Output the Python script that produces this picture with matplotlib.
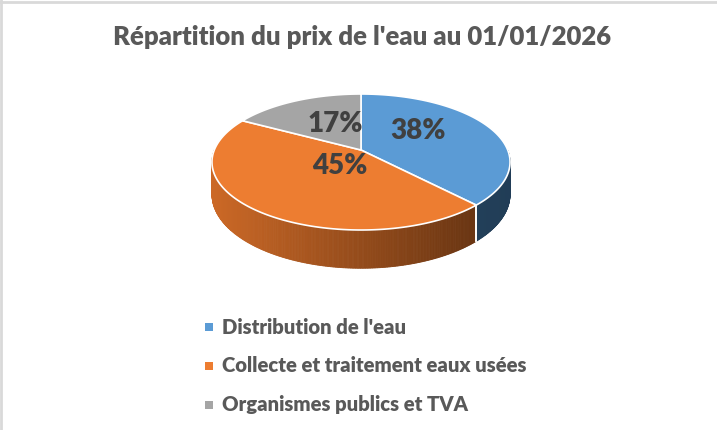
import numpy as np
import matplotlib.pyplot as plt
from matplotlib.patches import Polygon, Rectangle

title = "Répartition du prix de l'eau au 01/01/2026"
categories = ["Distribution de l'eau", "Collecte et traitement eaux usées", "Organismes publics et TVA"]
shares = [38, 45, 17]
labels = ["38%", "45%", "17%"]

top_colors = ["#5B9BD5", "#ED7D31", "#A5A5A5"]
side_left = [(0.17, 0.30, 0.42), (0.80, 0.41, 0.15), (0.45, 0.45, 0.45)]
side_right = [(0.13, 0.24, 0.34), (0.36, 0.18, 0.06), (0.35, 0.35, 0.35)]
label_pos = [(418, 131), (340, 166), (335, 124)]

# perspective pie: disk projected with a simple homography
cx, g = 361, 146.7
ya, yb, pc = -39.41, 150.0, 0.1765
D = 31.5  # thickness


def proj(theta, r=1.0, drop=0.0):
    t = np.radians(theta)
    X, Z = r * np.cos(t), r * np.sin(t)
    den = 1 + pc * Z
    return cx + g * X / den, (ya * Z + yb) / den + drop / den


fig = plt.figure(figsize=(7.17, 4.3), dpi=100)
ax = fig.add_axes([0, 0, 1, 1])
ax.set_xlim(0, 717)
ax.set_ylim(430, 0)
ax.axis('off')

fracs = np.array(shares) / sum(shares)
cum = np.concatenate([[0], np.cumsum(fracs)])
starts = 90 - cum[:-1] * 360
ends = 90 - cum[1:] * 360

# sides (front half only)
for i in range(len(shares)):
    a0, a1 = starts[i], ends[i]
    angs = np.linspace(a0, a1, 300)
    for k in range(len(angs) - 1):
        tm = np.radians((angs[k] + angs[k + 1]) / 2)
        if np.sin(tm) >= 0:
            continue
        x0, y0 = proj(angs[k])
        x1, y1 = proj(angs[k + 1])
        _, b0 = proj(angs[k], drop=D)
        _, b1 = proj(angs[k + 1], drop=D)
        f = np.clip((0.5 * (x0 + x1) - (cx - 150)) / 300, 0, 1)
        col = tuple(np.array(side_left[i]) * (1 - f) + np.array(side_right[i]) * f)
        ax.add_patch(Polygon([(x0, y0), (x1, y1), (x1, b1), (x0, b0)],
                             closed=True, facecolor=col, edgecolor=col, lw=0.6))
    for a in (a0, a1):
        if np.sin(np.radians(a)) < 0:
            x, y = proj(a)
            _, b = proj(a, drop=D)
            ax.plot([x, x], [y, b], color='white', lw=1.2)

# top faces
center = proj(0, r=0)
for i in range(len(shares)):
    angs = np.linspace(starts[i], ends[i], 200)
    pts = [center] + [proj(a) for a in angs]
    ax.add_patch(Polygon(pts, closed=True, facecolor=top_colors[i],
                         edgecolor='white', lw=1.2, joinstyle='round'))

for lab, (x, y) in zip(labels, label_pos):
    ax.text(x, y, lab, ha='center', va='center', fontsize=20,
            fontweight='heavy', color='#404040', family='Lato')

ax.text(362, 37, title, ha='center', va='center', fontsize=18.5,
        fontweight='heavy', color='#595959', family='Lato')

legend_y = [327, 366, 405]
for i, name in enumerate(categories):
    ax.add_patch(Rectangle((205, legend_y[i] - 4), 8, 8, facecolor=top_colors[i], edgecolor='none'))
    ax.text(222, legend_y[i], name, ha='left', va='center', fontsize=14.6,
            fontweight='heavy', color='#595959', family='Lato')

# light frame at top and left
ax.plot([0, 717], [1.5, 1.5], color='#D9D9D9', lw=2)
ax.plot([1, 1], [0, 430], color='#D9D9D9', lw=2)

fig.savefig("out.png", dpi=100)
